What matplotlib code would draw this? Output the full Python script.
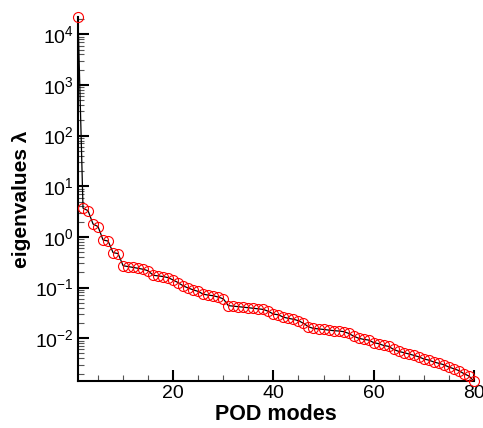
import matplotlib
matplotlib.use("Agg")
import matplotlib.pyplot as plt
import numpy as np
from matplotlib.ticker import LogLocator, MultipleLocator, FixedLocator, NullFormatter

plt.rcParams['font.family'] = ['Liberation Sans', 'DejaVu Sans']

# POD eigenvalues, modes 1..80
modes = np.arange(1, 81)
eigenvalues = [
    2.2e4, 3.7, 3.3, 1.8, 1.6, 0.87, 0.83, 0.49, 0.47, 0.27,
    0.26, 0.25, 0.24, 0.23, 0.215, 0.175, 0.17, 0.165, 0.157, 0.141,
    0.125, 0.108, 0.098, 0.090, 0.084, 0.074, 0.071, 0.069, 0.065, 0.060,
    0.044, 0.043, 0.042, 0.041, 0.040, 0.039, 0.038, 0.037, 0.034, 0.030,
    0.029, 0.026, 0.0247, 0.0237, 0.0222, 0.0197, 0.0168, 0.0156, 0.0153, 0.0149,
    0.0145, 0.0141, 0.0139, 0.0135, 0.0125, 0.0110, 0.0100, 0.0095, 0.0092, 0.0082,
    0.0078, 0.0072, 0.0069, 0.0060, 0.0055, 0.0052, 0.0049, 0.0046, 0.0043, 0.0039,
    0.0037, 0.0034, 0.0032, 0.0030, 0.0027, 0.0025, 0.0023, 0.0020, 0.0018, 0.00143,
]
x_ticks = [20, 40, 60, 80]

fig = plt.figure(figsize=(4.83, 4.28), dpi=100)
ax = fig.add_axes([0.1615, 0.1098, 0.8195, 0.8505])

ax.plot(modes, eigenvalues, color='black', lw=0.9, zorder=2)
ax.plot(modes, eigenvalues, ls='none', marker='o', ms=7.2, mfc='none',
        mec='red', mew=0.8, zorder=3, clip_on=False)

ax.set_yscale('log')
ax.set_xlim(1, 80)
ax.set_ylim(min(eigenvalues), max(eigenvalues))

ax.xaxis.set_major_locator(FixedLocator(x_ticks))
ax.xaxis.set_minor_locator(MultipleLocator(5))
ax.yaxis.set_major_locator(LogLocator(base=10, numticks=20))
ax.yaxis.set_minor_locator(LogLocator(base=10, subs=np.arange(2, 10), numticks=20))
ax.yaxis.set_minor_formatter(NullFormatter())

for s in ['top', 'right']:
    ax.spines[s].set_visible(False)
for s in ['left', 'bottom']:
    ax.spines[s].set_linewidth(1.5)

ax.tick_params(which='major', direction='in', length=8, width=1.5, labelsize=14)
ax.tick_params(which='minor', direction='in', length=4, width=0.8, color='#555555')
ax.tick_params(axis='x', pad=3)
ax.tick_params(axis='y', pad=3)

ax.set_xlabel('POD modes', fontsize=15.5, fontweight='bold', labelpad=1)
ax.set_ylabel('eigenvalues λ', fontsize=15, fontweight='bold', labelpad=3)

fig.savefig('out.png', dpi=100)
